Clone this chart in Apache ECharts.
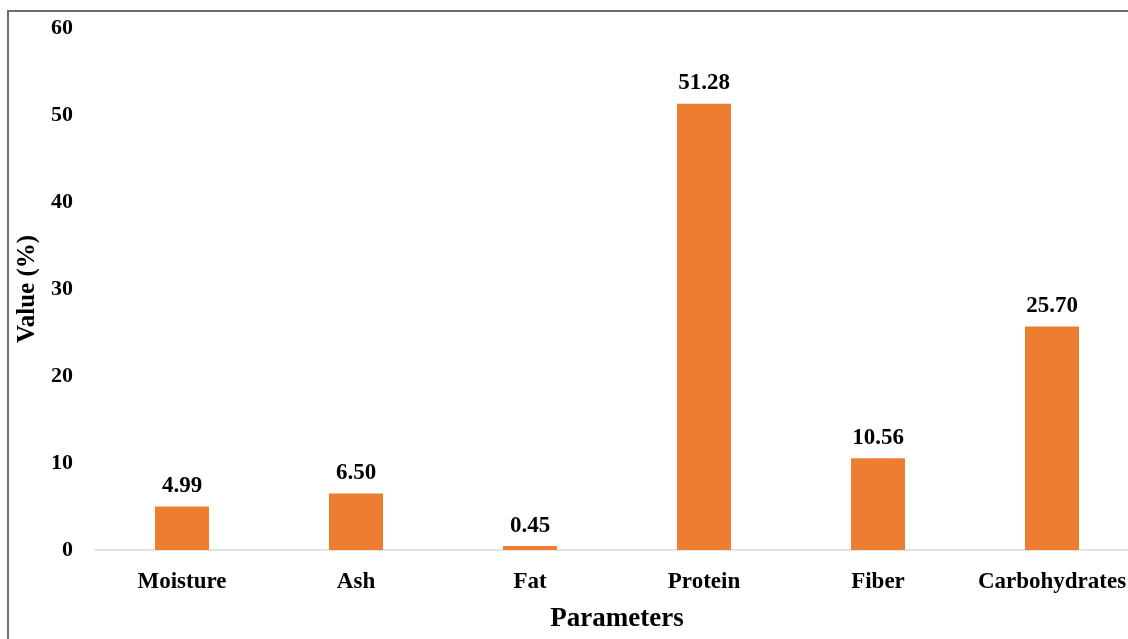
<!DOCTYPE html>
<html>
<head>
<meta charset="utf-8">
<script src="https://cdn.jsdelivr.net/npm/echarts@6/dist/echarts.min.js"></script>
<style>
  html, body { margin: 0; padding: 0; background: #fff; overflow: hidden; }
  #frame { position: absolute; left: 7px; top: 10px; width: 1200px; height: 700px;
           border-left: 2px solid #6e6e6e; border-top: 2px solid #6e6e6e; box-sizing: border-box; }
  #chart { position: absolute; left: 0; top: 0; width: 1139px; height: 639px; }
</style>
</head>
<body>
<div id="frame"></div>
<div id="chart"></div>
<script>
// Proximate composition (%)
const categories = ['Moisture', 'Ash', 'Fat', 'Protein', 'Fiber', 'Carbohydrates'];
const values = [4.99, 6.50, 0.45, 51.28, 10.56, 25.70];
const yTicks = { min: 0, max: 60, interval: 10 };

const font = '"Liberation Serif", "Times New Roman", serif';
const chart = echarts.init(document.getElementById('chart'), null, { renderer: 'canvas' });
chart.setOption({
  animation: false,
  grid: { left: 95, right: 0, top: 28, bottom: 89 },
  xAxis: {
    type: 'category',
    data: categories,
    name: 'Parameters',
    nameLocation: 'middle',
    nameGap: 56,
    nameTextStyle: { fontFamily: font, fontWeight: 'bold', fontSize: 27, color: '#000' },
    axisLine: { lineStyle: { color: '#d9d9d9', width: 1.5 } },
    axisTick: { show: false },
    axisLabel: { interval: 0, fontFamily: font, fontWeight: 'bold', fontSize: 23, color: '#000', margin: 21 }
  },
  yAxis: {
    type: 'value',
    min: yTicks.min, max: yTicks.max, interval: yTicks.interval,
    name: 'Value (%)',
    nameLocation: 'middle',
    nameGap: 54,
    nameTextStyle: { fontFamily: font, fontWeight: 'bold', fontSize: 25, color: '#000' },
    axisLine: { show: false },
    axisTick: { show: false },
    splitLine: { show: false },
    axisLabel: { fontFamily: font, fontWeight: 'bold', fontSize: 22, color: '#000', margin: 22 }
  },
  series: [{
    type: 'bar',
    data: values,
    barWidth: 54,
    itemStyle: { color: '#ed7d31' },
    label: {
      show: true,
      position: 'top',
      distance: 9,
      formatter: p => p.value.toFixed(2),
      fontFamily: font, fontWeight: 'bold', fontSize: 23, color: '#000'
    }
  }]
});
</script>
</body>
</html>
